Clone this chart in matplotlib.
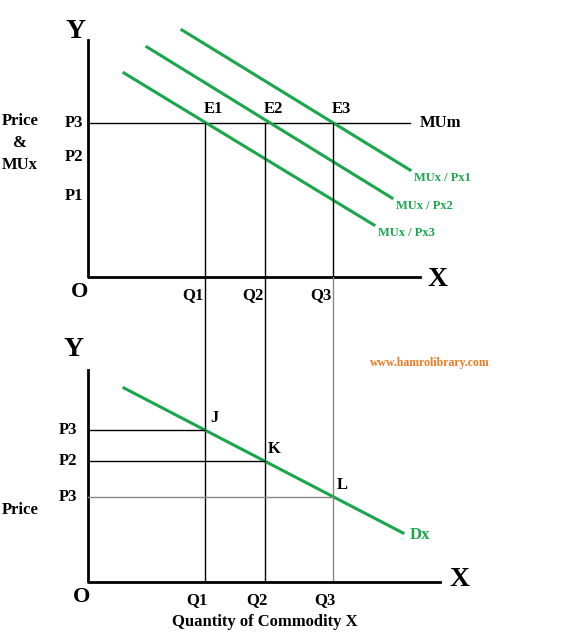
import matplotlib
matplotlib.use("Agg")
import matplotlib.pyplot as plt

# Diagram geometry (pixel space of the original figure)
mu_lines = {"MUx / Px1": [(182, 30), (410, 170)],
            "MUx / Px2": [(147, 47), (392, 198)],
            "MUx / Px3": [(124, 73), (374, 225)]}
eq_x = [205, 265, 333]
eq_labels = ["E1", "E2", "E3"]
q_labels = ["Q1", "Q2", "Q3"]
top_price_y = [123, 157, 196]
top_price_labels = ["P3", "P2", "P1"]
demand = [(124, 388), (403, 533)]
dem_pts = ["J", "K", "L"]
dem_y = [430, 461, 497]
bot_price_labels = ["P3", "P2", "P3"]

G = "#1aa64a"
fig = plt.figure(figsize=(5.72, 6.4), dpi=100)
ax = fig.add_axes([0, 0, 1, 1])
ax.set_xlim(0, 572); ax.set_ylim(640, 0); ax.axis("off")
F = dict(family="Liberation Serif", fontweight="bold")

# top panel
ax.plot([88, 88, 420], [40, 277, 277], color="k", lw=2)
ax.text(76, 32, "Y", fontsize=20, ha="center", va="center", **F)
ax.text(438, 279, "X", fontsize=20, ha="center", va="center", **F)
ax.text(80, 292, "O", fontsize=16, ha="center", va="center", **F)
ax.plot([88, 410], [123, 123], color="k", lw=1)
ax.text(420, 123, "MUm", fontsize=12, va="center", **F)
for (lab, ((x0, y0), (x1, y1))) in mu_lines.items():
    ax.plot([x0, x1], [y0, y1], color=G, lw=2.2)
    ax.text(x1 + 4, y1 + 8, lab, fontsize=9, color=G, va="center", **F)
for x, e in zip(eq_x, eq_labels):
    ax.text(x + 8, 109, e, fontsize=12, ha="center", va="center", **F)
for y, p in zip(top_price_y, top_price_labels):
    ax.text(74, y, p, fontsize=12, ha="center", va="center", **F)
ax.text(20, 143, "Price\n&\nMUx", fontsize=12, ha="center", va="center", linespacing=1.5, **F)
for x, q in zip(eq_x, q_labels):
    ax.text(x - 12, 295, q, fontsize=12, ha="center", va="center", **F)

# verticals
for i, x in enumerate(eq_x):
    ax.plot([x, x], [123, 277], color="k", lw=1)
    ax.plot([x, x], [277, 582], color="k" if i < 2 else "#888888", lw=1)

# bottom panel
ax.plot([88, 88, 440], [370, 582, 582], color="k", lw=2)
ax.text(73, 350, "Y", fontsize=20, ha="center", va="center", **F)
ax.text(460, 580, "X", fontsize=20, ha="center", va="center", **F)
ax.text(82, 597, "O", fontsize=16, ha="center", va="center", **F)
ax.plot([p[0] for p in demand], [p[1] for p in demand], color=G, lw=2.2)
ax.text(410, 535, "Dx", fontsize=12, color=G, va="center", **F)
for x, y, lab, p in zip(eq_x, dem_y, dem_pts, bot_price_labels):
    ax.plot([88, x], [y, y], color="k" if lab != "L" else "#888888", lw=1)
    ax.text(x + 9, y - 12, lab, fontsize=12, ha="center", va="center", **F)
    ax.text(68, y, p, fontsize=12, ha="center", va="center", **F)
ax.text(20, 510, "Price", fontsize=12, ha="center", va="center", **F)
for x, q in zip(eq_x, q_labels):
    ax.text(x - 8, 600, q, fontsize=12, ha="center", va="center", **F)
ax.text(265, 622, "Quantity of Commodity X", fontsize=12, ha="center", va="center", **F)
ax.text(430, 363, "www.hamrolibrary.com", fontsize=8.5, color="#f07820", ha="center", va="center", **F)

fig.savefig("out.png", dpi=100)
